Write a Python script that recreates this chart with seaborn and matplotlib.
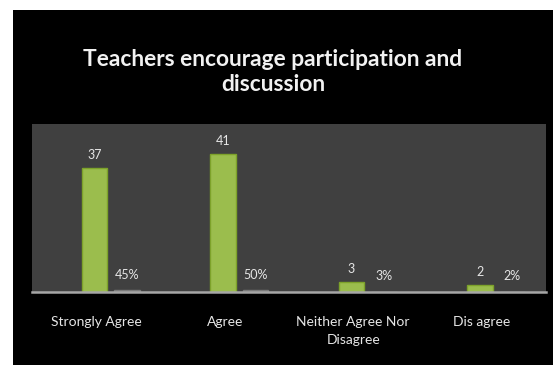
import matplotlib
matplotlib.use("Agg")
import matplotlib.pyplot as plt
import seaborn as sns
import pandas as pd
import numpy as np
from matplotlib.patches import Rectangle

categories = ["Strongly Agree", "Agree", "Neither Agree Nor\nDisagree", "Dis agree"]
counts = [37, 41, 3, 2]
percents = [0.45, 0.50, 0.03, 0.02]
count_labels = ["37", "41", "3", "2"]
percent_labels = ["45%", "50%", "3%", "2%"]
title = "Teachers encourage participation and\ndiscussion"

df = pd.DataFrame({
    "category": categories * 2,
    "value": counts + percents,
    "series": ["Count"] * len(categories) + ["Percent"] * len(categories),
})

sns.set_theme(style="dark")
plt.rcParams["font.family"] = ["Lato", "DejaVu Sans"]

W, H = 553, 365
fig = plt.figure(figsize=(W / 100, H / 100), dpi=100, facecolor="white")
fig.patches.append(Rectangle((13 / W, 0), 1 - 13 / W, 1 - 10 / H,
                             transform=fig.transFigure, facecolor="black",
                             edgecolor="none", zorder=-10))

ax = fig.add_axes([32 / W, 73 / H, 514 / W, 168 / H])
ax.set_facecolor("#404040")

sns.barplot(data=df, x="category", y="value", hue="series", ax=ax,
            palette={"Count": "#a2d03a", "Percent": "#6e6e6e"},
            width=0.506, gap=0.21, dodge=True, legend=False,
            edgecolor="#7da22a", linewidth=1.0)

for bar in ax.containers[1]:
    bar.set_edgecolor("#7a7a7a")

shift = -0.112
ax.set_xlim(-0.5 + shift, 3.5 + shift)
ax.set_ylim(0, 50)
ax.set_xticks(np.arange(len(categories)) + shift)
ax.set_xticklabels(categories, color="#e6e6e6", fontsize=10, linespacing=1.65)
ax.tick_params(axis="x", length=0, pad=17)
ax.set_yticks([])
ax.set_xlabel("")
ax.set_ylabel("")
for side in ["top", "left", "right"]:
    ax.spines[side].set_visible(False)
ax.spines["bottom"].set_visible(True)
ax.spines["bottom"].set_color("#a6a6a6")
ax.spines["bottom"].set_linewidth(1.8)

ax.bar_label(ax.containers[0], labels=count_labels, padding=5,
             color="#e6e6e6", fontsize=9)
ax.bar_label(ax.containers[1], labels=percent_labels, padding=7,
             color="#e6e6e6", fontsize=9)

fig.text(273 / W, 1 - 72 / H, title, ha="center", va="center",
         color="#f2f2f2", fontsize=16.4, fontweight="bold", linespacing=1.2)

fig.savefig("out.png", dpi=100, facecolor="white")
